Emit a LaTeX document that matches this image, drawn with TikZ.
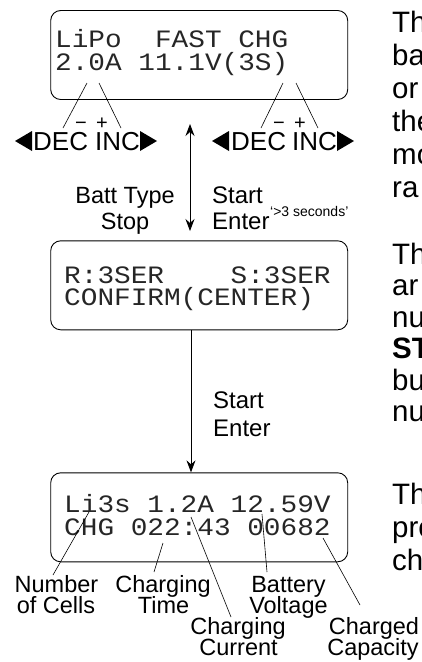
\documentclass[tikz,border=0pt]{standalone}
\usepackage{graphicx}
\usepackage{fontspec}
\setmainfont{Liberation Sans}
\newfontfamily\lcdfont{Liberation Mono}
\usetikzlibrary{arrows.meta}
\newcommand\lcdtxt[1]{\scalebox{1.11}[1]{#1}}
\begin{document}
\begin{tikzpicture}[x=1pt,y=-1pt,
  lcdbox/.style={draw, rounded corners=10pt, line width=0.9pt, minimum width=297pt, minimum height=89pt, inner sep=0pt},
  lcd/.style={anchor=base west, inner sep=0pt, font=\lcdfont\fontsize{25}{25}\selectfont, text=black!85},
  lbl/.style={anchor=base, inner sep=0pt, font=\fontsize{23.5}{23.5}\selectfont},
  lblw/.style={anchor=base west, inner sep=0pt, font=\fontsize{24}{24}\selectfont},
  keyl/.style={anchor=base west, inner sep=0pt, font=\fontsize{26}{26}\selectfont},
  sgn/.style={anchor=base, inner sep=0pt, font=\fontsize{20}{20}\selectfont},
  side/.style={anchor=base west, inner sep=0pt, font=\fontsize{29.5}{29.5}\selectfont},
  callout/.style={line width=0.6pt},
  tip/.tip={Stealth[length=12pt,width=9pt,inset=4pt]},
  flow/.style={line width=0.9pt},
  tri/.style={fill=black},
]
\useasboundingbox (0,0) rectangle (422,662);
\clip (0,0) rectangle (422,662);

% ---------- boxes ----------
\node[lcdbox] (box1) at (199.2,55) {};
\node[lcdbox] (box2) at (199.2,285.3) {};
\node[lcdbox] (box3) at (199.2,517.3) {};

% ---------- LCD texts ----------
\node[lcd] (l11) at (55,47) {\lcdtxt{LiPo~~FAST~CHG}};
\node[lcd] (l12) at (55,70) {\lcdtxt{2.0A~11.1V(3S)}};
\node[lcd] (l21) at (64,283) {\lcdtxt{R:3SER~~~~S:3SER}};
\node[lcd] (l22) at (64,305) {\lcdtxt{CONFIRM(CENTER)}};
\node[lcd] (l31) at (64,512) {\lcdtxt{Li3s~1.2A~12.59V}};
\node[lcd] (l32) at (64,535) {\lcdtxt{CHG~022:43~00682}};

% ---------- DEC / INC rows ----------
\node[keyl] (dec1) at (33,150) {DEC};
\node[keyl] (inc1) at (95,150) {INC};
\node[sgn] (m1) at (81,129) {−};
\node[sgn] (p1) at (102,129) {+};
\node[keyl] (dec2) at (231,150) {DEC};
\node[keyl] (inc2) at (292,150) {INC};
\node[sgn] (m2) at (279,129) {−};
\node[sgn] (p2) at (300,129) {+};
\fill[tri] (15,141) -- (32,131) -- (32,151) -- cycle;
\fill[tri] (140,131) -- (157,141) -- (140,151) -- cycle;
\fill[tri] (212,141) -- (229,131) -- (229,151) -- cycle;
\fill[tri] (337,131) -- (354,141) -- (337,151) -- cycle;

% callouts to DEC/INC
\coordinate (d1a) at (87,83);   \coordinate (d1b) at (63,128);
\coordinate (i1a) at (99,83);   \coordinate (i1b) at (121,128);
\coordinate (d2a) at (283,83);  \coordinate (d2b) at (261,128);
\coordinate (i2a) at (296,83);  \coordinate (i2b) at (318,128);
\draw[callout] (d1a) -- (d1b);
\draw[callout] (i1a) -- (i1b);
\draw[callout] (d2a) -- (d2b);
\draw[callout] (i2a) -- (i2b);

% ---------- first transition ----------
\coordinate (a1t) at (190,124);
\coordinate (a1b) at (190,231);
\draw[flow, tip-tip] (a1t) -- (a1b);
\node[lbl] (bt) at (125,203) {Batt Type};
\node[lbl] (stop) at (125,229) {Stop};
\node[lblw] (st1) at (212,203) {Start};
\node[lblw] (en1) at (212,229) {Enter};
\node[anchor=base west, inner sep=0pt, font=\fontsize{14}{14}\selectfont] (sec) at (270,216) {‘>3 seconds’};

% ---------- second transition ----------
\coordinate (a2) at (191,0);
\draw[flow, -tip] (box2.south -| a2) -- (box3.north -| a2);
\node[lblw] (st2) at (213,408) {Start};
\node[lblw] (en2) at (213,436) {Enter};

% ---------- bottom labels ----------
\node[lbl] (num1) at (56.5,592) {Number};
\node[lbl] (num2) at (56,613) {of Cells};
\node[lbl] (ct1) at (163,592) {Charging};
\node[lbl] (ct2) at (163.5,613) {Time};
\node[lbl] (bv1) at (288.5,592) {Battery};
\node[lbl] (bv2) at (288.5,613) {Voltage};
\node[lbl] (cc1) at (238,634) {Charging};
\node[lbl] (cc2) at (238.5,655) {Current};
\node[lbl] (cp1) at (374,634) {Charged};
\node[lbl] (cp2) at (373,655) {Capacity};

\coordinate (n1) at (89,512);   \coordinate (n2) at (53,575);
\coordinate (t1) at (163,543);  \coordinate (t2) at (154,572);
\coordinate (c1) at (191,517);  \coordinate (c2) at (231,617);
\coordinate (v1) at (262,514);  \coordinate (v2) at (267,572);
\coordinate (k1) at (323,538);  \coordinate (k2) at (360,605);
\draw[callout] (n1) -- (n2);
\draw[callout] (t1) -- (t2);
\draw[callout] (c1) -- (c2);
\draw[callout] (v1) -- (v2);
\draw[callout] (k1) -- (k2);

% ---------- right-hand text (cut at the edge) ----------
\node[side] (r11) at (392,32) {Th};
\node[side] (r12) at (392,65) {ba};
\node[side] (r13) at (392,98) {or};
\node[side] (r14) at (392,131) {the};
\node[side] (r15) at (392,164) {mo};
\node[side] (r16) at (392,197) {ra};
\node[side] (r21) at (392,264) {Th};
\node[side] (r22) at (392,295.5) {ar};
\node[side] (r23) at (392,327) {nu};
\node[side, font=\fontsize{29.5}{29.5}\selectfont\bfseries] (r24) at (392,358.5) {ST};
\node[side] (r25) at (392,390) {bu};
\node[side] (r26) at (392,421.5) {nu};
\node[side] (r31) at (392,504) {Th};
\node[side] (r32) at (392,537) {pro};
\node[side] (r33) at (392,570) {ch};
\end{tikzpicture}
\end{document}
